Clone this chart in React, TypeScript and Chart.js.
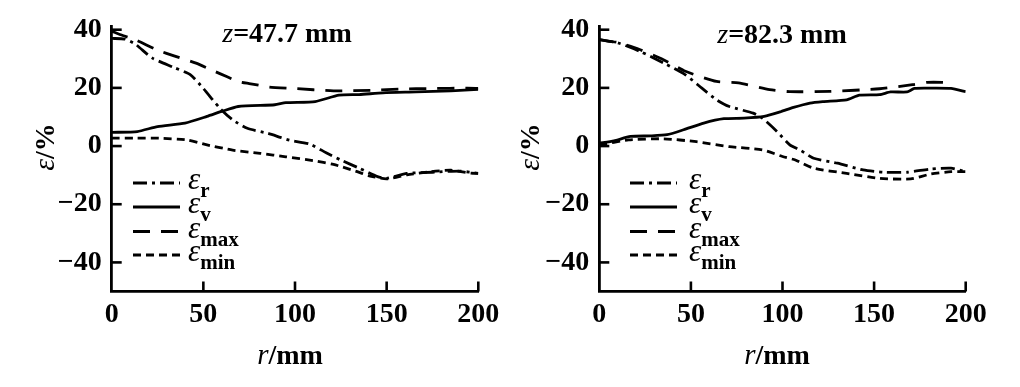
import React, { useEffect, useRef } from "react";
import { Chart, registerables } from "chart.js";

Chart.register(...registerables);

const FONT = '"Liberation Serif", "Times New Roman", Times, serif';

// ---- axes ----
const xTickValues = [0, 50, 100, 150, 200];
const xTickMarks = [50, 100, 150, 200];
const yTickValues = [-40, -20, 0, 20, 40];
const yTickLabels = ["−40", "−20", "0", "20", "40"];
const legendSubscripts = ["r", "v", "max", "min"];
const panelTitles = ["47.7", "82.3"];

// ---- panel A: z = 47.7 mm ----
const aRr = [0, 7, 13, 22, 34, 43, 50, 59, 66, 74, 85, 92, 97, 108, 117, 125, 135, 145, 150, 161, 175, 190, 200];
const aEr = [37, 36.8, 35, 30.3, 27, 24.5, 19.8, 13, 9, 6.1, 4.4, 3, 2, 0.7, -2.3, -4.8, -7.6, -10.5, -11.1, -9.4, -9, -8.6, -9.4];
const aRv = [0, 14, 25, 40, 52, 60, 69, 89, 95, 111, 124, 135, 148, 166, 185, 200];
const aEv = [4.7, 5, 6.7, 7.9, 10.2, 11.9, 13.6, 14.2, 14.9, 15.3, 17.5, 17.7, 18.3, 18.6, 19, 19.5];
const aRmax = [0, 6, 13, 25, 34, 46, 55, 63, 69, 75, 86, 99, 121, 143, 157, 175, 194, 200];
const aEmax = [39.5, 38, 36.5, 33, 31, 28.5, 26, 23.8, 22.2, 21.5, 20.3, 19.8, 19, 19.2, 19.6, 19.8, 19.9, 19.8];
const aRmin = [0, 12, 26, 41, 52, 66, 81, 95, 110, 121, 133, 141, 150, 161, 174, 185, 196, 200];
const aEmin = [2.7, 2.7, 2.7, 2.1, 0.4, -1.4, -2.5, -3.7, -5, -6.3, -8.6, -10.3, -11.3, -9.9, -8.8, -8.3, -9.3, -9.4];

// ---- panel B: z = 82.3 mm ----
const bRr = [0, 10, 22, 35, 47, 56, 64, 71, 84, 89, 97, 104, 110, 117, 130, 144, 155, 168, 181, 192, 200];
const bEr = [36.6, 35.5, 32.6, 28.6, 24.5, 19.9, 15.9, 13.6, 11.3, 9.6, 5, 0.4, -1.5, -4.2, -5.9, -8.2, -9, -9, -7.9, -7.6, -8.8];
const bRv = [0, 8, 17, 28, 37, 46, 57, 68, 79, 90, 99, 106, 115, 122, 135, 142, 153, 159, 168, 172, 181, 192, 200];
const bEv = [1, 1.8, 3.3, 3.5, 3.9, 5.6, 7.9, 9.4, 9.6, 10.2, 11.8, 13.3, 14.8, 15.3, 15.9, 17.5, 17.7, 18.6, 18.6, 19.8, 19.9, 19.8, 18.7];
const bRmax = [0, 10, 22, 35, 47, 64, 76, 93, 104, 126, 153, 171, 179, 190];
const bEmax = [36.6, 35.6, 33.2, 29.7, 25.7, 22.2, 21.7, 19.4, 18.7, 18.8, 19.7, 21.1, 21.9, 21.9];
const bRmin = [0, 16, 35, 53, 71, 89, 100, 107, 117, 135, 153, 170, 181, 192, 200];
const bEmin = [0.4, 2.1, 2.5, 1.5, -0.2, -1.3, -3.6, -4.8, -7.6, -9.4, -11.1, -11.3, -9.6, -8.8, -8.8];

const dashPatterns: number[][] = [[14, 5, 3, 5], [], [17, 11], [8, 5]];

type Layout = {
  yAxisWidth: number;
  padRight: number;
  titleX: number;
  titleY: number;
  yTitleX: number;
  yTitleY: number;
  xTitleX: number;
  xTitleY: number;
  legendLineX: number;
  legendTextX: number;
  legendY: number[];
};

const layouts: Layout[] = [
  {
    yAxisWidth: 111.7, padRight: 31.7,
    titleX: 287, titleY: 42,
    yTitleX: 45, yTitleY: 147,
    xTitleX: 290, xTitleY: 363.5,
    legendLineX: 133, legendTextX: 188,
    legendY: [183, 207, 231.5, 255],
  },
  {
    yAxisWidth: 89.3, padRight: 54.3,
    titleX: 272, titleY: 43,
    yTitleX: 20, yTitleY: 147,
    xTitleX: 267, xTitleY: 363.5,
    legendLineX: 120, legendTextX: 179,
    legendY: [183, 207, 231.5, 255],
  },
];

const zip = (xs: number[], ys: number[]) => xs.map((x, i) => ({ x, y: ys[i] }));

const panelData = [
  [zip(aRr, aEr), zip(aRv, aEv), zip(aRmax, aEmax), zip(aRmin, aEmin)],
  [zip(bRr, bEr), zip(bRv, bEv), zip(bRmax, bEmax), zip(bRmin, bEmin)],
];

type Run = { t: string; f: string };

function drawRuns(ctx: CanvasRenderingContext2D, runs: Run[], cx: number, y: number) {
  let total = 0;
  for (const r of runs) {
    ctx.font = r.f;
    total += ctx.measureText(r.t).width;
  }
  let x = cx - total / 2;
  ctx.textAlign = "left";
  ctx.textBaseline = "alphabetic";
  for (const r of runs) {
    ctx.font = r.f;
    ctx.fillText(r.t, x, y);
    x += ctx.measureText(r.t).width;
  }
}

function makeDecor(idx: number) {
  const L = layouts[idx];
  return {
    id: "decor" + idx,
    afterDraw(chart: any) {
      const ctx: CanvasRenderingContext2D = chart.ctx;
      const { left, bottom } = chart.chartArea;
      const xs = chart.scales.x;
      const ys = chart.scales.y;
      ctx.save();
      ctx.strokeStyle = "#000";
      ctx.fillStyle = "#000";
      ctx.lineWidth = 2.6;
      ctx.setLineDash([]);
      // inward tick marks
      for (const v of yTickValues) {
        const py = ys.getPixelForValue(v);
        ctx.beginPath();
        ctx.moveTo(left, py);
        ctx.lineTo(left + 10, py);
        ctx.stroke();
      }
      for (const v of xTickMarks) {
        const px = xs.getPixelForValue(v);
        ctx.beginPath();
        ctx.moveTo(px, bottom);
        ctx.lineTo(px, bottom - 10);
        ctx.stroke();
      }
      // panel title
      drawRuns(
        ctx,
        [
          { t: "z", f: `italic 28px ${FONT}` },
          { t: "=" + panelTitles[idx] + " mm", f: `bold 28px ${FONT}` },
        ],
        L.titleX,
        L.titleY
      );
      // x title
      drawRuns(
        ctx,
        [
          { t: "r", f: `italic 29px ${FONT}` },
          { t: "/mm", f: `bold 28px ${FONT}` },
        ],
        L.xTitleX,
        L.xTitleY
      );
      // y title
      ctx.save();
      ctx.translate(L.yTitleX, L.yTitleY);
      ctx.rotate(-Math.PI / 2);
      drawRuns(
        ctx,
        [
          { t: "ε", f: `italic 30px ${FONT}` },
          { t: "/%", f: `bold 28px ${FONT}` },
        ],
        0,
        9
      );
      ctx.restore();
      // legend
      ctx.lineWidth = 2.8;
      for (let i = 0; i < 4; i++) {
        const y = L.legendY[i];
        ctx.setLineDash(dashPatterns[i]);
        ctx.beginPath();
        ctx.moveTo(L.legendLineX, y);
        ctx.lineTo(L.legendLineX + 47, y);
        ctx.stroke();
        ctx.setLineDash([]);
        ctx.textAlign = "left";
        ctx.textBaseline = "alphabetic";
        ctx.font = `italic 31px ${FONT}`;
        ctx.fillText("ε", L.legendTextX, y + 6);
        const w = ctx.measureText("ε").width;
        ctx.font = `bold 21px ${FONT}`;
        ctx.fillText(legendSubscripts[i], L.legendTextX + w, y + 14);
      }
      ctx.restore();
    },
  };
}

function Panel({ idx }: { idx: number }) {
  const ref = useRef<HTMLCanvasElement | null>(null);
  useEffect(() => {
    if (!ref.current) return;
    const L = layouts[idx];
    const chart = new Chart(ref.current, {
      type: "line",
      data: {
        datasets: panelData[idx].map((pts, i) => ({
          label: "ε" + legendSubscripts[i],
          data: pts,
          borderColor: "#000",
          borderWidth: 2.8,
          borderDash: dashPatterns[i],
          pointRadius: 0,
          fill: false,
          tension: 0.2,
        })),
      },
      options: {
        animation: false,
        responsive: false,
        maintainAspectRatio: false,
        layout: { padding: { left: 0, right: L.padRight, top: 26, bottom: 0 } },
        plugins: { legend: { display: false }, tooltip: { enabled: false } },
        scales: {
          x: {
            type: "linear",
            min: 0,
            max: 200,
            afterBuildTicks: (s: any) => {
              s.ticks = xTickValues.map((v) => ({ value: v }));
            },
            afterFit: (s: any) => {
              s.height = 95.5;
            },
            grid: { display: false, drawTicks: false },
            border: { display: true, color: "#000", width: 2.8 },
            ticks: {
              color: "#000",
              font: { family: FONT, size: 28, weight: "bold" },
              padding: 6,
              maxRotation: 0,
              autoSkip: false,
            },
          },
          y: {
            type: "linear",
            min: -50,
            max: 41,
            afterBuildTicks: (s: any) => {
              s.ticks = yTickValues.map((v) => ({ value: v }));
            },
            afterFit: (s: any) => {
              s.width = L.yAxisWidth;
            },
            grid: { display: false, drawTicks: false },
            border: { display: true, color: "#000", width: 2.8 },
            ticks: {
              color: "#000",
              font: { family: FONT, size: 28, weight: "bold" },
              padding: 10,
              autoSkip: false,
              callback: (v: any) => {
                const k = yTickValues.indexOf(Number(v));
                return k >= 0 ? yTickLabels[k] : "";
              },
            },
          },
        },
      },
      plugins: [makeDecor(idx)],
    } as any);
    return () => chart.destroy();
  }, [idx]);
  return <canvas ref={ref} width={510} height={387} style={{ display: "block", width: 510, height: 387 }} />;
}

export default function App() {
  return (
    <div
      style={{
        position: "absolute",
        left: 0,
        top: 0,
        width: 1020,
        height: 387,
        display: "flex",
        background: "#fff",
      }}
    >
      <Panel idx={0} />
      <Panel idx={1} />
    </div>
  );
}
